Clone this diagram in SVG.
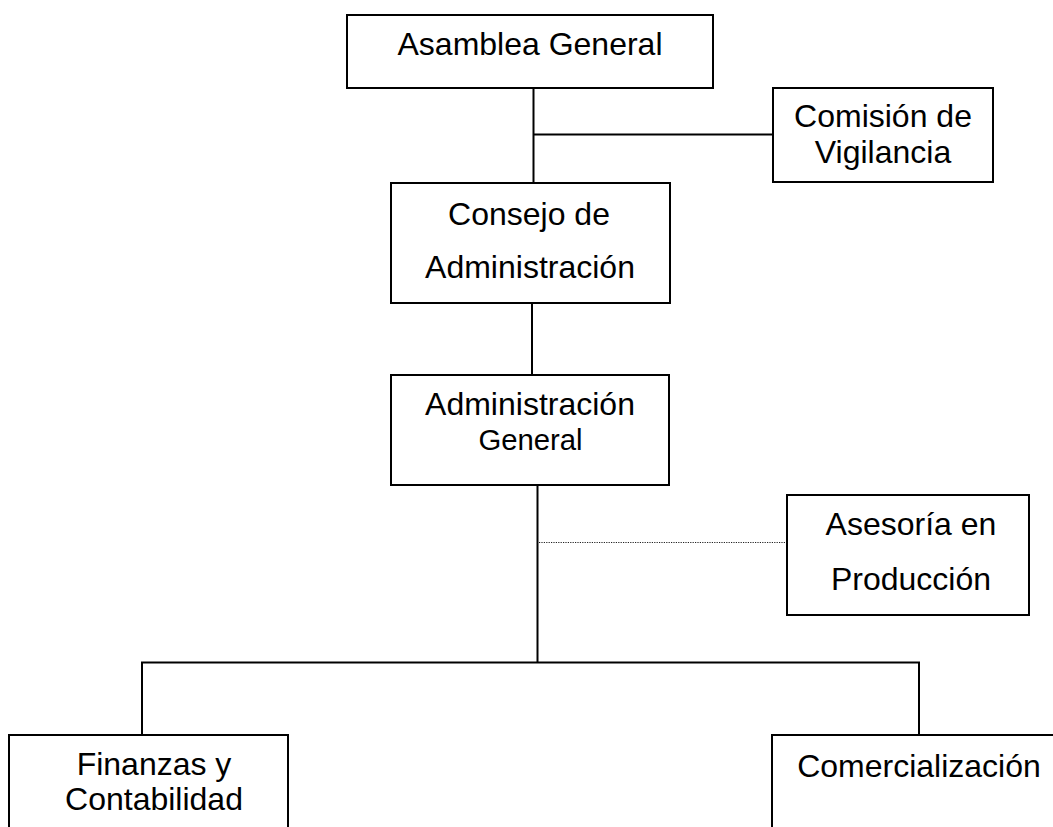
<svg xmlns="http://www.w3.org/2000/svg" width="1053" height="827" viewBox="0 0 1053 827">
  <style>
    .box { fill: #ffffff; stroke: #000000; stroke-width: 2; }
    .lbl { font-family: "Liberation Sans", Arial, sans-serif; font-size: 32px; fill: #000000; text-anchor: middle; }
    .small { font-size: 29.3px; }
    .link { stroke: #000000; stroke-width: 2; fill: none; }
    .dotted { stroke: #222222; stroke-width: 1.2; stroke-dasharray: 1.2 1.2; fill: none; }
  </style>
  <rect width="1053" height="827" fill="#ffffff"/>

  <!-- connectors -->
  <g id="connectors">
    <line class="link" x1="533.5" y1="88" x2="533.5" y2="183"/>
    <line class="link" x1="533.5" y1="134.5" x2="773" y2="134.5"/>
    <line class="link" x1="532" y1="303" x2="532" y2="375"/>
    <line class="link" x1="537.5" y1="485" x2="537.5" y2="662.5"/>
    <line class="dotted" x1="539" y1="542.5" x2="787" y2="542.5"/>
    <polyline class="link" points="142,735 142,662.5 919,662.5 919,735"/>
  </g>

  <g id="asamblea-general">
    <rect class="box" x="347" y="15" width="366" height="73"/>
    <text class="lbl" x="530" y="55">Asamblea General</text>
  </g>

  <g id="comision-vigilancia">
    <rect class="box" x="773" y="88" width="220" height="94"/>
    <text class="lbl" x="883" y="127">Comisión de</text>
    <text class="lbl" x="883" y="163">Vigilancia</text>
  </g>

  <g id="consejo-administracion">
    <rect class="box" x="391" y="183" width="279" height="120"/>
    <text class="lbl" x="529" y="225">Consejo de</text>
    <text class="lbl" x="530" y="278">Administración</text>
  </g>

  <g id="administracion-general">
    <rect class="box" x="391" y="375" width="278" height="110"/>
    <text class="lbl" x="530" y="415">Administración</text>
    <text class="lbl small" x="530.5" y="450">General</text>
  </g>

  <g id="asesoria-produccion">
    <rect class="box" x="787" y="495" width="242" height="120"/>
    <text class="lbl" x="911" y="535">Asesoría en</text>
    <text class="lbl" x="911" y="590">Producción</text>
  </g>

  <g id="finanzas-contabilidad">
    <rect class="box" x="9" y="735" width="279" height="120"/>
    <text class="lbl" x="154" y="775">Finanzas y</text>
    <text class="lbl" x="154" y="810">Contabilidad</text>
  </g>

  <g id="comercializacion">
    <rect class="box" x="772" y="735" width="300" height="120"/>
    <text class="lbl" x="919" y="777">Comercialización</text>
  </g>
</svg>
